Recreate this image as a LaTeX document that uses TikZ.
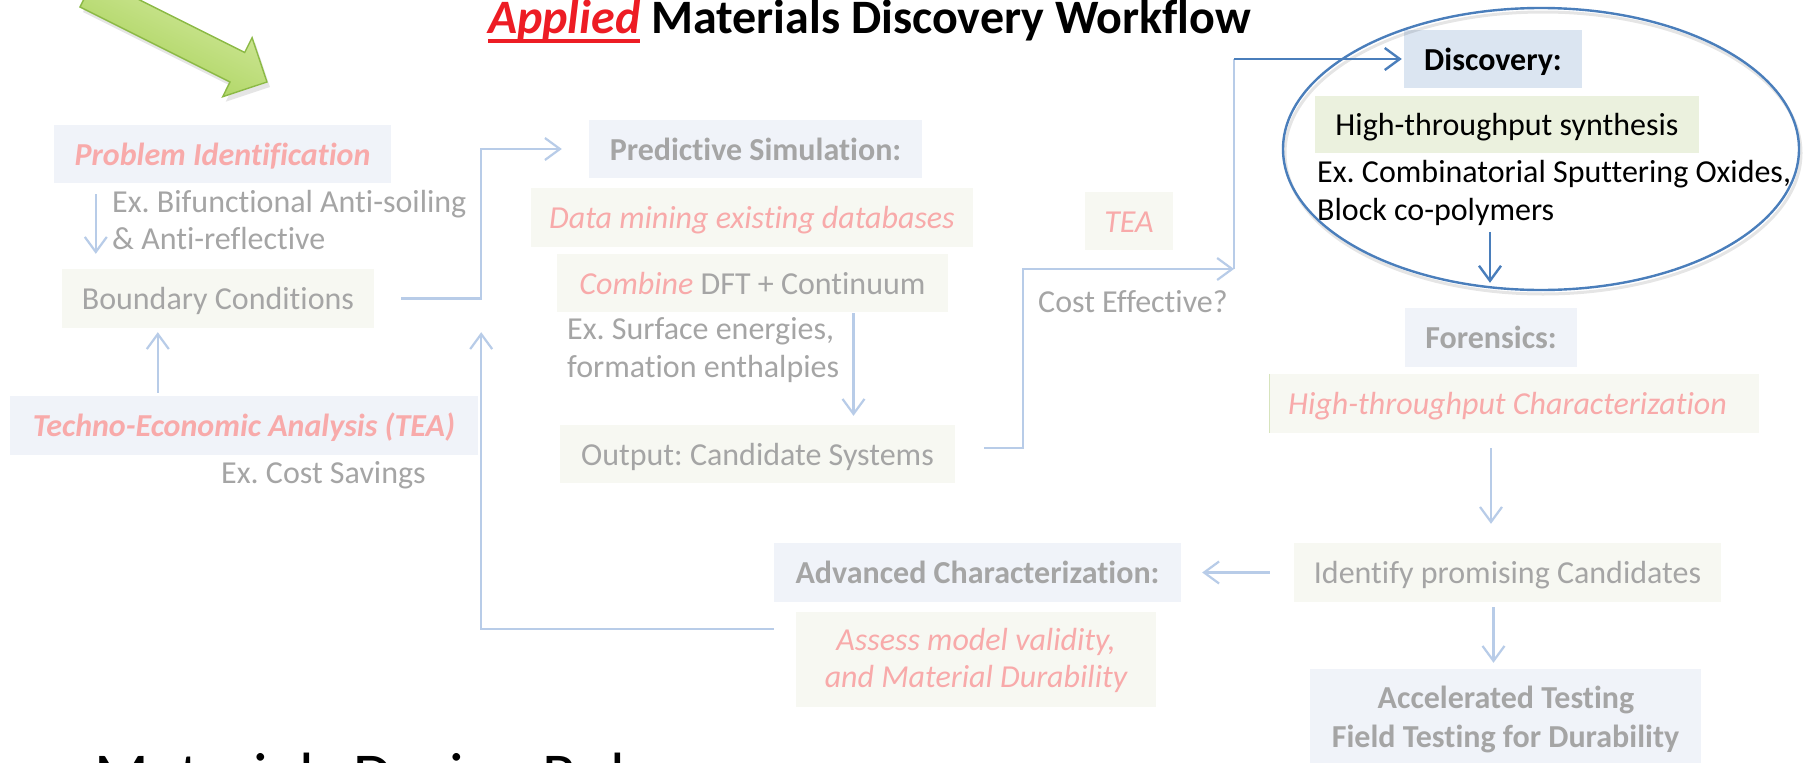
\documentclass[tikz,border=0pt]{standalone}
\usepackage{fontspec}
\setmainfont{Carlito}[Ligatures=NoCommon]
\usetikzlibrary{arrows.meta,calc,shapes.geometric}

\definecolor{txtgray}{RGB}{165,165,165}
\definecolor{softred}{RGB}{248,170,170}
\definecolor{boxblue}{RGB}{240,243,249}
\definecolor{boxgreen}{RGB}{247,248,242}
\definecolor{lineblue}{RGB}{184,204,232}
\definecolor{deepblue}{RGB}{74,126,187}
\definecolor{discblue}{RGB}{219,229,241}
\definecolor{synthgreen}{RGB}{235,241,222}
\definecolor{titlered}{RGB}{237,28,36}
\definecolor{arrowlight}{RGB}{216,235,165}
\definecolor{arrowdark}{RGB}{163,208,82}
\definecolor{arrowedge}{RGB}{140,186,70}
\definecolor{edgegreen}{RGB}{215,228,189}

% thick red underline for the emphasised word of the heading
\newcommand\redrule[1]{\setbox0=\hbox{#1}\rlap{\color{titlered}\rule[-10pt]{\wd0}{4pt}}\box0\relax}

\begin{document}
\frenchspacing
\begin{tikzpicture}[x=1pt,y=-1pt,
  body/.style={font=\fontsize{32}{38}\selectfont\frenchspacing},
  panel/.style={rectangle, inner sep=0pt, body, text height=22pt, text depth=0pt},
  bluepanel/.style={panel, fill=boxblue},
  greenpanel/.style={panel, fill=boxgreen},
  note/.style={body, text=txtgray, inner sep=0pt, anchor=base west},
  line/.style={body, inner sep=0pt, anchor=base},
  lconn/.style={draw=lineblue, line width=2.2pt, -{Straight Barb[length=15pt,width=22pt]}},
  lline/.style={draw=lineblue, line width=2.2pt},
  dconn/.style={draw=deepblue, line width=2.4pt, -{Straight Barb[length=15pt,width=22pt]}},
]
\useasboundingbox (0,0) rectangle (1808,763);
\fill[white] (0,0) rectangle (1808,763);
\clip (0,0) rectangle (1808,763);

% green pointer arrow (soft shadow, then shaded body)
\begin{scope}[shift={(3,5)}]
  \fill[black,opacity=0.10] (94.7,-22.5) -- (244.7,52.5) -- (252.1,37.7) -- (267,82)
    -- (222.7,96.7) -- (230,82) -- (80,7) -- cycle;
\end{scope}
\path[draw=arrowedge, line width=1.4pt, line join=miter,
      top color=arrowlight, bottom color=arrowdark, shading angle=-26.5]
  (94.7,-22.5) -- (244.7,52.5) -- (252.1,37.7) -- (267,82)
  -- (222.7,96.7) -- (230,82) -- (80,7) -- cycle;

% heading
\node[anchor=base west, inner sep=0pt, font=\fontsize{48}{52}\selectfont\bfseries] (title)
  at (488,33) {\redrule{\textcolor{titlered}{\itshape Applied}} Materials Discovery Workflow};

% left column
\node[bluepanel, minimum width=337pt, minimum height=58pt, text=softred] (prob)
  at (222.5,154) {\bfseries\itshape Problem Identification};
\node[note] (exa1) at (112,212) {Ex. Bifunctional Anti-soiling};
\node[note] (exa2) at (112,249) {\& Anti-reflective};
\node[greenpanel, minimum width=312pt, minimum height=59pt, text=txtgray] (bound)
  at (218,298.5) {Boundary Conditions};
\node[bluepanel, minimum width=468pt, minimum height=59pt, text=softred] (tea)
  at (244,425.5) {\bfseries\itshape Techno-Economic Analysis (TEA)};
\node[note] (exb) at (221,483) {Ex. Cost Savings};

% simulation column
\node[bluepanel, minimum width=333pt, minimum height=58pt, text=txtgray] (pred)
  at (755.5,149) {\bfseries Predictive Simulation:};
\node[greenpanel, minimum width=442pt, minimum height=59pt, text=softred] (mine)
  at (752,217.5) {\itshape Data mining existing databases};
\node[greenpanel, minimum width=391pt, minimum height=58pt, text=txtgray] (comb)
  at (752.5,283) {\textcolor{softred}{\itshape Combine} DFT + Continuum};
\node[note] (exc1) at (567,339) {Ex. Surface energies,};
\node[note] (exc2) at (567,377) {formation enthalpies};
\node[greenpanel, minimum width=395pt, minimum height=58pt, text=txtgray] (outp)
  at (757.5,454) {Output: Candidate Systems};

\node[greenpanel, minimum width=88pt, minimum height=58pt, text=softred] (teasm)
  at (1129,221) {\itshape TEA};
\node[note] (cost) at (1038,312) {Cost Effective?};

% characterisation feedback
\node[bluepanel, minimum width=407pt, minimum height=59pt, text=txtgray] (adv)
  at (977.5,572.5) {\bfseries Advanced Characterization:};
\node[greenpanel, minimum width=360pt, minimum height=95pt] (assess) at (976,659.5) {};
\node[line, text=softred] (asa) at (976,650) {\itshape Assess model validity,};
\node[line, text=softred] (asb) at (976,687) {\itshape and Material Durability};

% discovery group
\node[panel, fill=discblue, minimum width=178pt, minimum height=58pt, text=black] (disc)
  at (1493,59) {\bfseries Discovery:};
\node[panel, fill=synthgreen, minimum width=384pt, minimum height=57pt, text=black] (synth)
  at (1507,124.5) {High-throughput synthesis};
\node[note, text=black] (exd1) at (1317,182) {Ex. Combinatorial Sputtering Oxides,};
\node[note, text=black] (exd2) at (1317,220) {Block co-polymers};
\draw[black, opacity=0.10, line width=3pt] (1543,153) ellipse [x radius=258, y radius=141];
\node[draw=deepblue, line width=2.4pt, ellipse, minimum width=516pt, minimum height=282pt,
      inner sep=0pt] (ring) at (1541,149) {};

% right column
\node[bluepanel, minimum width=172pt, minimum height=59pt, text=txtgray] (fore)
  at (1491,337.5) {\bfseries Forensics:};
\node[greenpanel, minimum width=489pt, minimum height=59pt, text=softred] (htc)
  at (1514.5,403.5) {\itshape High-throughput Characterization\hspace*{14pt}};
\draw[edgegreen, line width=1.2pt] (htc.north west) -- (htc.south west);
\node[greenpanel, minimum width=427pt, minimum height=59pt, text=txtgray] (ident)
  at (1507.5,572.5) {Identify promising Candidates};
\node[bluepanel, minimum width=391pt, minimum height=110pt] (accel) at (1505.5,724) {};
\node[line, text=txtgray] (acca) at (1506,708) {\bfseries Accelerated Testing};
\node[line, text=txtgray] (accb) at (1505.5,747) {\bfseries Field Testing for Durability};

% large caption at the foot, running off the lower edge
\node[anchor=base west, inner sep=0pt, font=\fontsize{64}{76}\selectfont] (rules)
  at (94,797) {Materials Design Rul};

% connectors
\draw[lconn] ($(prob.south west)+(42,11)$) -- ($(bound.north west)+(34,-15)$);
\draw[lconn] ($(tea.north west)+(148,-3)$) -- ($(bound.south west)+(96,4)$);
\draw[lconn] ($(bound.east)+(27,0)$) -- ++(80,0) |- ($(pred.west)+(-27,0)$);
\draw[lconn] ($(comb.south)+(101,1)$) -- ($(outp.north)+(96,-9)$);
\coordinate (fork) at (1234,269);
\draw[lconn] ($(outp.east)+(29,-6)$) -- ++(39,0) |- (fork);
\draw[lline] (fork) -- (fork |- disc.west);
\draw[dconn, shorten >=2pt] (fork |- disc.west) -- (disc.west);
\draw[dconn] ($(fore.north)+(-1,-76)$) -- ($(fore.north)+(-1,-25)$);
\draw[lconn] ($(fore.south)+(0,81)$) -- ($(ident.north -| fore.south)+(0,-19)$);
\draw[lconn] ($(ident.south)+(-14,5)$) -- ($(accel.north)+(-12,-6)$);
\draw[lconn] ($(ident.west)+(-24,0)$) -- ($(adv.east)+(21,0)$);
\draw[lconn] ($(adv.south west)+(0,27)$) -| ($(bound.south east)+(107,4)$);
\end{tikzpicture}
\end{document}
